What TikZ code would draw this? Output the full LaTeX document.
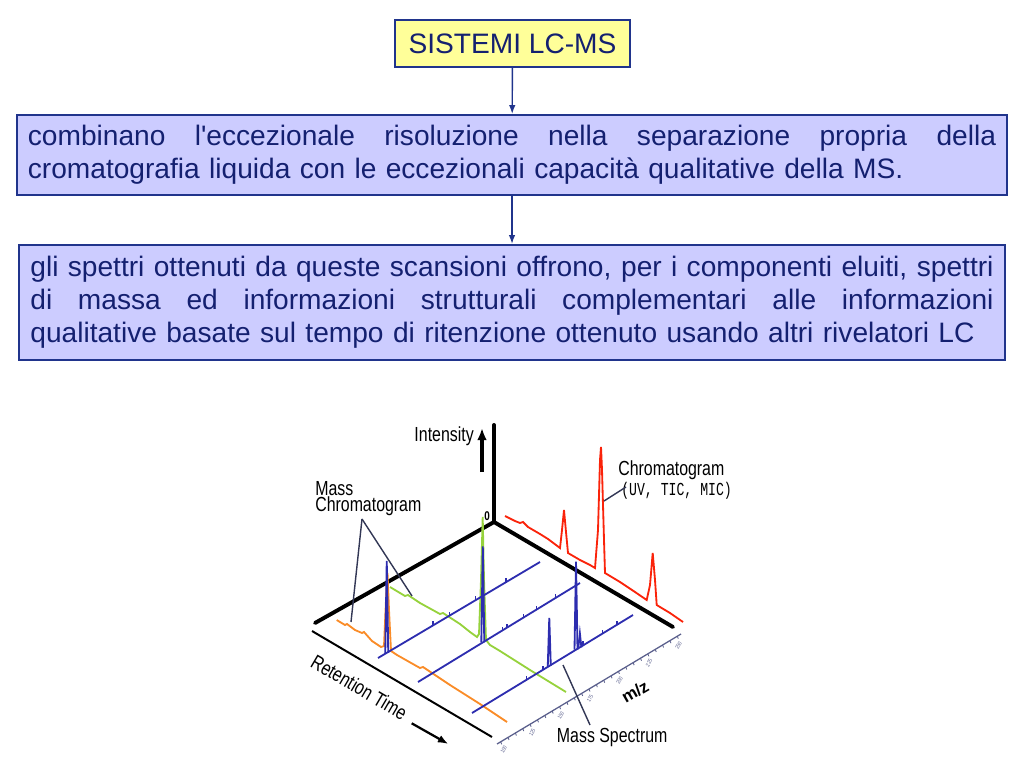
\documentclass[tikz,border=0pt]{standalone}
\usepackage{fontspec}
\setmainfont{Liberation Sans}
\newfontfamily\nfont[FakeStretch=0.78]{Liberation Sans}
\newfontfamily\mfont[FakeStretch=0.72]{Liberation Mono}
\usetikzlibrary{calc, arrows.meta}
\definecolor{inkblue}{RGB}{20,32,112}
\definecolor{rimblue}{RGB}{32,52,140}
\definecolor{hdfill}{RGB}{255,255,153}
\definecolor{bxfill}{RGB}{204,204,255}
\definecolor{msblue}{RGB}{45,45,175}
\definecolor{mcgreen}{RGB}{150,210,60}
\definecolor{mcorange}{RGB}{250,140,40}
\definecolor{tcred}{RGB}{250,35,10}
\definecolor{tagline}{RGB}{50,55,85}
\definecolor{mzgray}{RGB}{90,95,140}
\newcommand\fline[2]{\leavevmode\hbox to #1{\spaceskip=0pt \xspaceskip=0pt #2}}
\tikzset{ hd/.style = { draw = rimblue
                      , line width     = 1.4pt
                      , fill           = hdfill
                      , text           = inkblue
                      , minimum width  = 5.875cm
                      , minimum height = 1.175cm
                      , font = \fontsize{20}{23.5}\selectfont
                      },
          bx/.style = { draw = rimblue
                      , line width  = 1.4pt
                      , fill        = bxfill
                      , text        = inkblue
                      , align       = left
                      , inner xsep  = 0.28cm
                      , font = \fontsize{20}{23.5}\selectfont
                      },
          lb/.style = { inner sep = 0pt
                      , font = \nfont\fontsize{14.5}{11.2}\selectfont
                      },
          ax/.style = { line width = 2.8pt, line cap = round },
          ms/.style = { msblue, line width = 1.3pt },
          tc/.style = { tcred, line width = 1.3pt },
          tag/.style = { tagline, line width = 1pt }
        }
\begin{document}
\begin{tikzpicture}[x=0.025cm, y=-0.025cm]
  \useasboundingbox (0,0) rectangle (1024,768);

  \node[hd] (lcms) at (512.5,43.5) {SISTEMI LC-MS};
  \node[bx, text width=24.2cm, minimum height=2cm] (comb) at (512,155)
    {\fline{24.2cm}{combinano l\textquotesingle eccezionale risoluzione nella separazione propria della}\\
     cromatografia liquida con le eccezionali capacità qualitative della MS.};
  \node[bx, text width=24.075cm, minimum height=2.875cm] (spet) at (512,302.5)
    {\fline{24.075cm}{gli spettri ottenuti da queste scansioni offrono, per i componenti eluiti, spettri}\\
     \fline{24.075cm}{di massa ed informazioni strutturali complementari alle informazioni}\\
     qualitative basate sul tempo di ritenzione ottenuto usando altri rivelatori LC};
  \draw[rimblue, line width=1pt, -{Latex[length=2.2mm,width=1.6mm]}] (lcms) -- (comb);
  \draw[rimblue, line width=1pt, -{Latex[length=2.2mm,width=1.6mm]}] (comb) -- (spet);

  % axes
  \coordinate (o)  at (494,522);
  \coordinate (up) at (494,425);
  \coordinate (lt) at (315,623);
  \coordinate (rt) at (673,627);
  \draw[ax] (lt) -- (o) -- (rt);
  \draw[ax] (o) -- (up);
  \coordinate (ra) at (312,631);
  \coordinate (rb) at (492,737);
  \draw[line width=1.4pt] (ra) -- (rb);
  \coordinate (ma) at (497,744);
  \coordinate (mb) at (681,634);
  \draw[mzgray, line width=0.9pt] (ma) -- (mb);
  \foreach \t in {0.02,0.06,...,1}
    \draw[mzgray, line width=0.6pt] ($(ma)!\t!(mb)$) -- ++(1,2.5);
  \foreach \t/\v in {0.02/100,0.175/125,0.33/150,0.49/175,0.65/200,0.81/225,0.97/250}
    \node[mzgray, rotate=60, inner sep=0pt, font=\nfont\fontsize{4}{4}\selectfont]
      at ($(ma)!\t!(mb)+(3,8)$) {\v};

  % mass chromatograms
  \draw[mcorange, line width=1.3pt] (336.7,620) -- (345,625) -- (347,624) -- (355,630)
    -- (362,633) -- (364,632) -- (372,641) -- (381,647) -- (384,646) -- (386,600)
    -- (387.5,573) -- (389,610) -- (391,651) -- (397,655) -- (420,668) -- (423,667)
    -- (450,685) -- (480,704) -- (507,722);
  \draw[mcgreen, line width=1.3pt] (390,587) -- (405,596) -- (408,595) -- (420,603)
    -- (440,614) -- (443,613) -- (460,624) -- (470,632) -- (477,637) -- (479,634)
    -- (481,580) -- (482.7,517) -- (484,580) -- (486,640) -- (490,645) -- (500,651)
    -- (530,670) -- (566,692);

  % mass spectra
  \coordinate (s1a) at (378,658);
  \coordinate (s1b) at (540,562);
  \coordinate (s2a) at (418,682);
  \coordinate (s2b) at (580,583);
  \coordinate (s3a) at (472,713);
  \coordinate (s3b) at (633,615);
  \foreach \s in {1,2,3}
    \draw[ms] (s\s a) -- (s\s b);
  \foreach \s/\t/\h in {1/0.054/92, 2/0.4/96, 3/0.48/48, 3/0.646/88, 3/0.67/14}
    \draw[ms] ($(s\s a)!\t!(s\s b)+(-1.5,0)$) -- ++(1.5,-\h) -- ++(1.5,\h);
  \foreach \s/\t in {1/0.34, 1/0.44, 1/0.6, 1/0.79, 2/0.52, 2/0.55, 2/0.65,
                     2/0.73, 2/0.85, 3/0.34, 3/0.44, 3/0.69, 3/0.81, 3/0.9}
    \draw[ms, line width=1pt] ($(s\s a)!\t!(s\s b)$) -- ++(0,-4);

  % total chromatogram
  \draw[tc] (505,516) -- (515,521) -- (520,523) -- (523,522) -- (528,527) -- (540,534)
    -- (548,539) -- (556,545) -- (560,548) -- (562,530) -- (564,510) -- (566,532)
    -- (568,553) -- (580,560) -- (590,565) -- (595,568) -- (598,530) -- (600,460)
    -- (601,447) -- (602,470) -- (604,540) -- (605,573) -- (620,582) -- (635,592)
    -- (646.7,600) -- (650,585) -- (652.7,553) -- (655,580) -- (656.7,605)
    -- (670,613) -- (683,622);

  % labels
  \node[lb, anchor=base east] (ints) at (474,441.7) {Intensity};
  \draw[line width=2.2pt, -{Latex[length=3mm,width=2.4mm]}] (482,472) -- (482,428);
  \node[lb, font=\nfont\bfseries\fontsize{9}{9}\selectfont] (zero) at (487,516) {0};
  \node[lb, anchor=north west, align=left] (mcl) at (315,481) {Mass\\Chromatogram};
  \coordinate (mcp) at (362,519);
  \draw[tag] (mcp) -- (351,622);
  \draw[tag] (mcp) -- (412,596);
  \node[lb, anchor=base west] (tcl) at (618,475) {Chromatogram};
  \node[lb, anchor=base west, font=\mfont\fontsize{13}{13}\selectfont] (tcs) at (621,495) {(UV, TIC, MIC)};
  \coordinate (tcp) at (626,487);
  \draw[tag] (tcp) -- (604,501);
  \node[lb, anchor=base west] (msl) at (556.7,742.7) {Mass Spectrum};
  \coordinate (msp) at (590,725);
  \draw[tag] (msp) -- (563,665);
  \node[lb, rotate=-30.4] (rtl) at (359.3,687.3) {Retention Time};
  \draw[line width=1.6pt, -{Latex[length=2.6mm,width=2mm]}] (411.7,723.3) -- (448.3,744);
  \node[lb, rotate=30, font=\bfseries\fontsize{12}{12}\selectfont] (mz) at (635,691.7) {m/z};
\end{tikzpicture}
\end{document}
